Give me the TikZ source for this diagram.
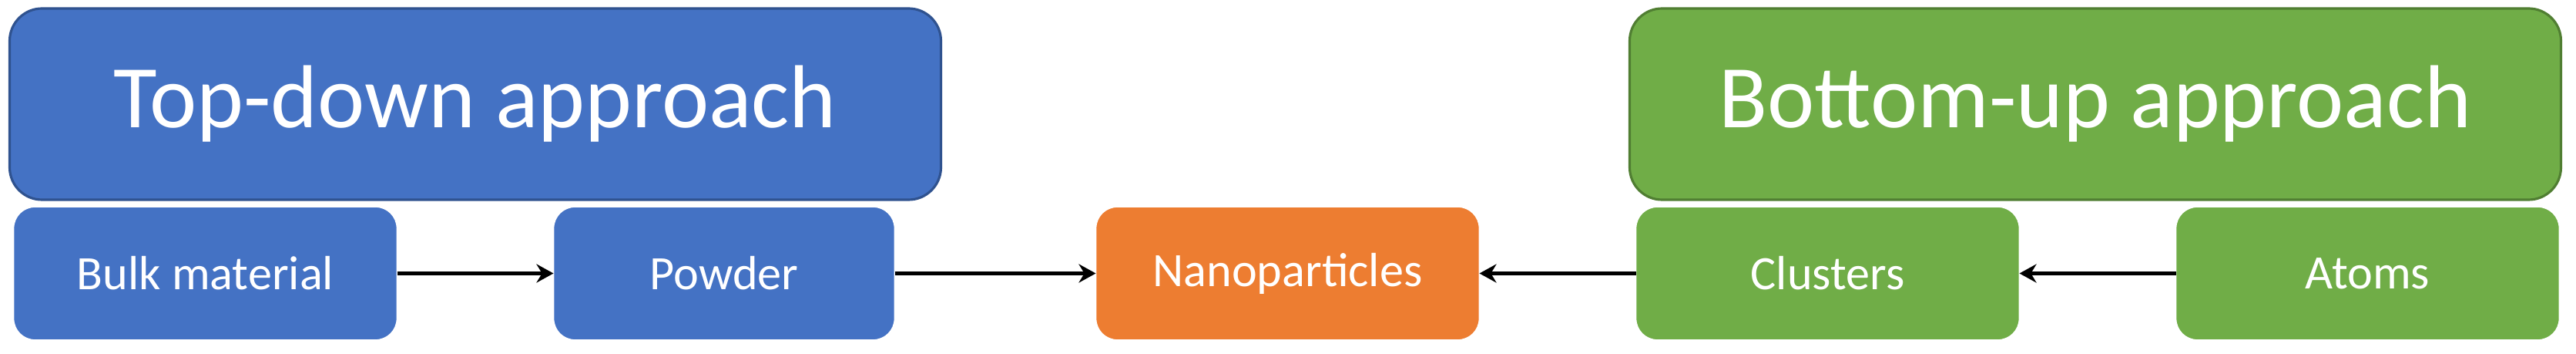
\documentclass[tikz,border=0pt]{standalone}
\usepackage{fontspec}
\setmainfont{Carlito}
\usetikzlibrary{arrows.meta,positioning,calc}

\definecolor{tdblue}{HTML}{4472C4}
\definecolor{tdblueedge}{HTML}{2F528F}
\definecolor{bugreen}{HTML}{70AD47}
\definecolor{bugreenedge}{HTML}{507E32}
\definecolor{nporange}{HTML}{ED7D31}

\begin{document}
\begin{tikzpicture}[
  node distance=2.03cm,
  box/.style={rectangle, rounded corners=0.28cm, draw=white, line width=0.5pt, text=white,
    minimum width=4.98cm, minimum height=1.73cm, inner sep=0pt, outer sep=0pt,
    align=center, font=\fontsize{17.7}{21}\selectfont},
  bigbox/.style={rectangle, rounded corners=0.42cm, line width=0.9pt, text=white,
    minimum width=12.09cm, minimum height=2.48cm, inner sep=0pt, outer sep=0pt,
    align=center, font=\fontsize{33}{40}\selectfont},
  arrow/.style={-{Stealth[length=0.22cm, width=0.24cm]}, line width=1.2pt}
]
\useasboundingbox (0,0) rectangle (33.44,4.59);

% Nodes
\node[box, fill=tdblue] (bulk) at (2.665,1.045) {Bulk material};
\node[box, fill=tdblue, minimum width=4.43cm, right=of bulk] (powder) {Powder};
\node[box, fill=nporange, right=2.61cm of powder] (nano) {Nanoparticles};
\node[box, fill=bugreen, right=of nano] (clusters) {Clusters};
\node[box, fill=bugreen, right=of clusters] (atoms) {Atoms};

\node[bigbox, fill=tdblue, draw=tdblueedge, anchor=south west] (topdown)
  at ($(bulk.north west)+(-0.05,0.09)$) {Top-down approach};
\node[bigbox, fill=bugreen, draw=bugreenedge, anchor=south east] (bottomup)
  at ($(atoms.north east)+(0.02,0.09)$) {Bottom-up approach};

% Arrows
\draw[arrow] (bulk) -- (powder);
\draw[arrow] (powder) -- (nano);
\draw[arrow] (clusters) -- (nano);
\draw[arrow] (atoms) -- (clusters);

\end{tikzpicture}
\end{document}
